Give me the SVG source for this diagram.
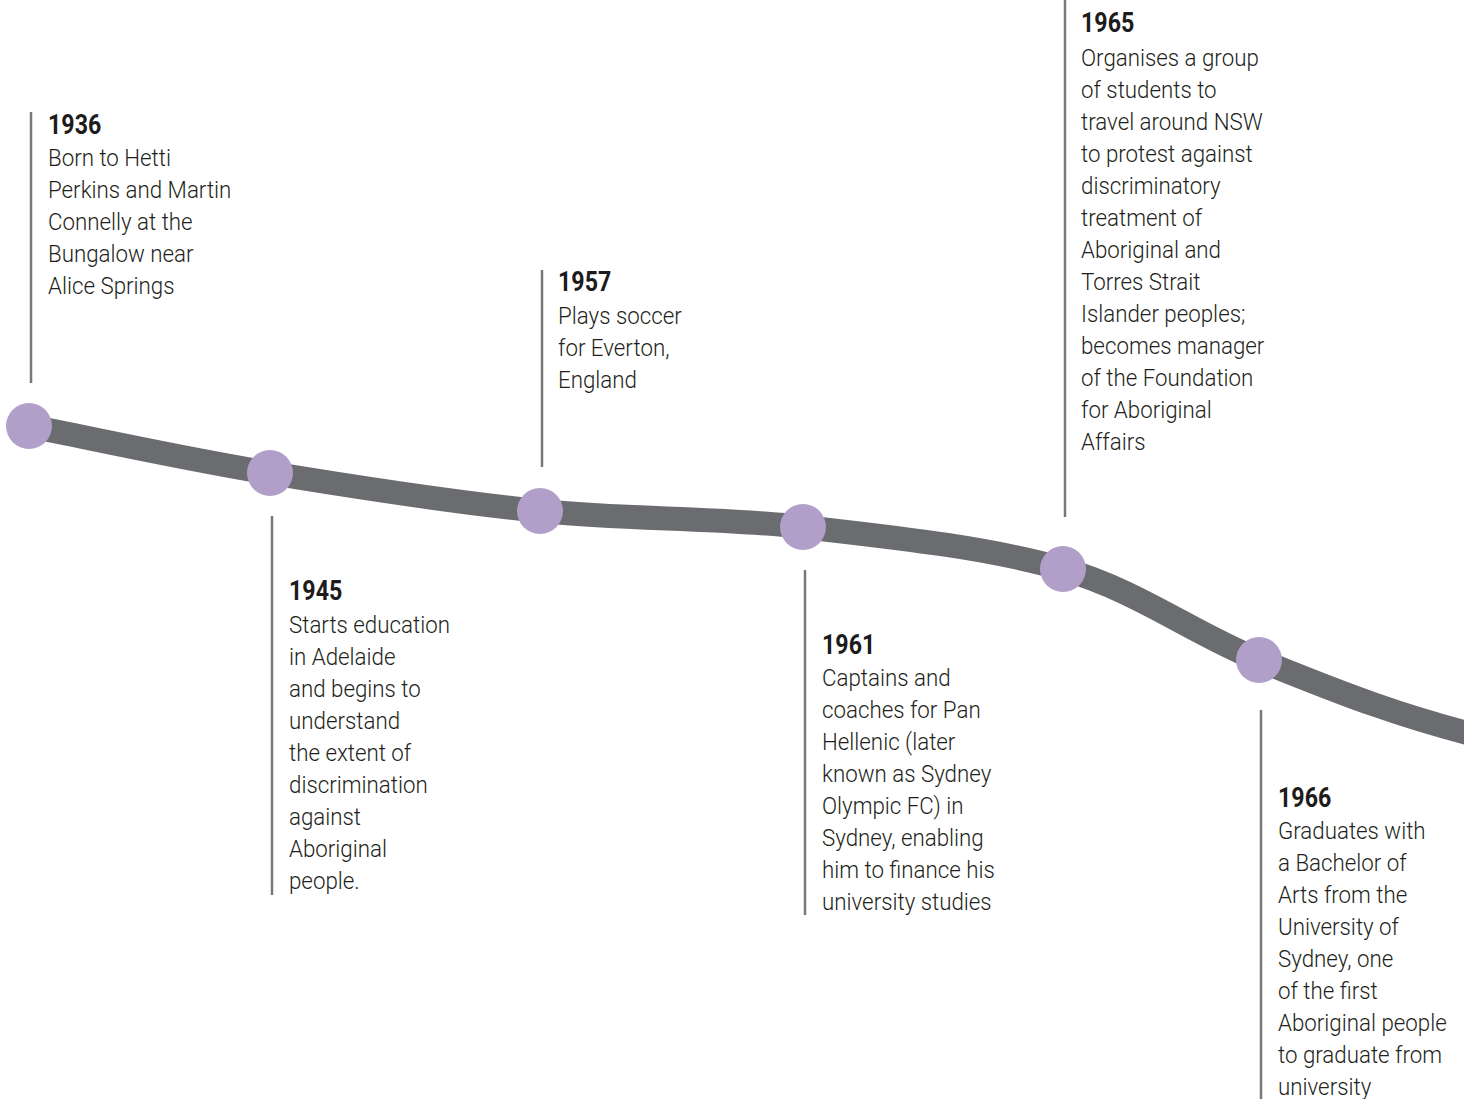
<svg xmlns="http://www.w3.org/2000/svg" width="1464" height="1099" viewBox="0 0 1464 1099">
  <style>
    .band { fill: none; stroke: #6b6c70; stroke-width: 24; }
    .dot { fill: #b19fca; }
    .tick { stroke: #77787b; stroke-width: 2.5; }
    .yr { font-family: Roboto, "DejaVu Sans Condensed", sans-serif; font-weight: 700; font-size: 27px; fill: #1d1b1c; }
    .txt { font-family: Roboto, "DejaVu Sans Condensed", sans-serif; font-weight: 300; font-size: 24px; fill: #231f20; }
  </style>
  <rect width="1464" height="1099" fill="#ffffff"/>

  <!-- timeline band and leader lines -->
  <g id="connectors">
    <path class="band" d="M29,426 C109,442 185,459 270,473 C355,487 451,502 540,511 C629,520 716,517 803,527 C890,537 987,547 1063,569 C1139,591 1192,633 1259,660 C1326,687 1400,718 1500,741"/>
    <line class="tick" x1="31" y1="112" x2="31" y2="383"/>
    <line class="tick" x1="272" y1="516" x2="272" y2="895"/>
    <line class="tick" x1="542" y1="270" x2="542" y2="467"/>
    <line class="tick" x1="805" y1="570" x2="805" y2="915"/>
    <line class="tick" x1="1065" y1="0" x2="1065" y2="517"/>
    <line class="tick" x1="1261" y1="710" x2="1261" y2="1099"/>
  </g>

  <g id="e1936">
    <circle class="dot" cx="29" cy="426" r="23"/>
    <text class="yr" transform="translate(48 0) scale(0.86 1)" x="0" y="134">1936</text>
    <text class="txt" transform="translate(48 0) scale(0.93 1)">
      <tspan x="0" y="166">Born to Hetti</tspan>
      <tspan x="0" y="198">Perkins and Martin</tspan>
      <tspan x="0" y="230">Connelly at the</tspan>
      <tspan x="0" y="262">Bungalow near</tspan>
      <tspan x="0" y="294">Alice Springs</tspan>
    </text>
  </g>

  <g id="e1945">
    <circle class="dot" cx="270" cy="473" r="23"/>
    <text class="yr" transform="translate(289 0) scale(0.86 1)" x="0" y="600">1945</text>
    <text class="txt" transform="translate(289 0) scale(0.93 1)">
      <tspan x="0" y="633">Starts education</tspan>
      <tspan x="0" y="665">in Adelaide</tspan>
      <tspan x="0" y="697">and begins to</tspan>
      <tspan x="0" y="729">understand</tspan>
      <tspan x="0" y="761">the extent of</tspan>
      <tspan x="0" y="793">discrimination</tspan>
      <tspan x="0" y="825">against</tspan>
      <tspan x="0" y="857">Aboriginal</tspan>
      <tspan x="0" y="889">people.</tspan>
    </text>
  </g>

  <g id="e1957">
    <circle class="dot" cx="540" cy="511" r="23"/>
    <text class="yr" transform="translate(558 0) scale(0.86 1)" x="0" y="291">1957</text>
    <text class="txt" transform="translate(558 0) scale(0.93 1)">
      <tspan x="0" y="324">Plays soccer</tspan>
      <tspan x="0" y="356">for Everton,</tspan>
      <tspan x="0" y="388">England</tspan>
    </text>
  </g>

  <g id="e1961">
    <circle class="dot" cx="803" cy="527" r="23"/>
    <text class="yr" transform="translate(822 0) scale(0.86 1)" x="0" y="654">1961</text>
    <text class="txt" transform="translate(822 0) scale(0.93 1)">
      <tspan x="0" y="686">Captains and</tspan>
      <tspan x="0" y="718">coaches for Pan</tspan>
      <tspan x="0" y="750">Hellenic (later</tspan>
      <tspan x="0" y="782">known as Sydney</tspan>
      <tspan x="0" y="814">Olympic FC) in</tspan>
      <tspan x="0" y="846">Sydney, enabling</tspan>
      <tspan x="0" y="878">him to finance his</tspan>
      <tspan x="0" y="910">university studies</tspan>
    </text>
  </g>

  <g id="e1965">
    <circle class="dot" cx="1063" cy="569" r="23"/>
    <text class="yr" transform="translate(1081 0) scale(0.86 1)" x="0" y="32">1965</text>
    <text class="txt" transform="translate(1081 0) scale(0.93 1)">
      <tspan x="0" y="66">Organises a group</tspan>
      <tspan x="0" y="98">of students to</tspan>
      <tspan x="0" y="130">travel around NSW</tspan>
      <tspan x="0" y="162">to protest against</tspan>
      <tspan x="0" y="194">discriminatory</tspan>
      <tspan x="0" y="226">treatment of</tspan>
      <tspan x="0" y="258">Aboriginal and</tspan>
      <tspan x="0" y="290">Torres Strait</tspan>
      <tspan x="0" y="322">Islander peoples;</tspan>
      <tspan x="0" y="354">becomes manager</tspan>
      <tspan x="0" y="386">of the Foundation</tspan>
      <tspan x="0" y="418">for Aboriginal</tspan>
      <tspan x="0" y="450">Affairs</tspan>
    </text>
  </g>

  <g id="e1966">
    <circle class="dot" cx="1259" cy="660" r="23"/>
    <text class="yr" transform="translate(1278 0) scale(0.86 1)" x="0" y="807">1966</text>
    <text class="txt" transform="translate(1278 0) scale(0.93 1)">
      <tspan x="0" y="839">Graduates with</tspan>
      <tspan x="0" y="871">a Bachelor of</tspan>
      <tspan x="0" y="903">Arts from the</tspan>
      <tspan x="0" y="935">University of</tspan>
      <tspan x="0" y="967">Sydney, one</tspan>
      <tspan x="0" y="999">of the first</tspan>
      <tspan x="0" y="1031">Aboriginal people</tspan>
      <tspan x="0" y="1063">to graduate from</tspan>
      <tspan x="0" y="1095">university</tspan>
    </text>
  </g>
</svg>
